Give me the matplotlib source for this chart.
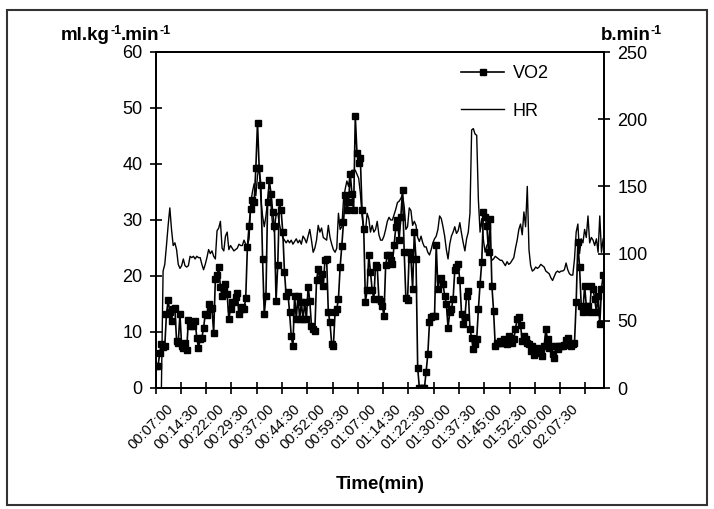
import matplotlib
matplotlib.use('Agg')
import matplotlib.pyplot as plt
import matplotlib.transforms as mtransforms
from matplotlib.patches import Rectangle
import numpy as np

# ---------------- data ----------------
vo2 = [3.9, 3.9, 6.2, 7.8, 7.3, 7.5, 13.2, 15.7, 13.5, 12.0,
       14.1, 14.2, 8.4, 8.1, 13.2, 7.5, 7.2, 8.1, 6.8, 12.2,
       11.0, 11.4, 11.0, 12.0, 8.9, 7.2, 8.7, 9.0, 10.7, 13.2,
       13.0, 15.0, 14.1, 14.2, 9.8, 19.5, 20.1, 21.6, 18.0, 16.5,
       17.7, 18.6, 16.8, 12.3, 14.1, 15.3, 15.4, 16.2, 16.9, 13.2,
       14.1, 14.4, 14.1, 16.0, 25.1, 29.0, 32.0, 33.5, 33.2, 39.2,
       47.4, 39.2, 36.2, 23.1, 13.2, 16.5, 33.2, 37.1, 34.7, 31.4,
       29.0, 15.6, 21.9, 33.2, 31.7, 27.8, 20.7, 16.5, 17.1, 13.5,
       9.3, 7.5, 16.5, 12.3, 16.5, 12.3, 15.3, 12.3, 15.3, 12.3,
       18.1, 15.6, 11.1, 10.5, 10.2, 19.2, 21.3, 19.5, 20.4, 18.3,
       22.8, 23.1, 13.5, 11.7, 7.8, 7.5, 13.5, 14.1, 15.9, 21.6,
       25.4, 29.6, 34.4, 31.7, 33.2, 38.3, 34.7, 31.7, 48.5, 41.9,
       40.1, 41.0, 31.7, 28.4, 15.4, 17.5, 23.7, 20.7, 17.5, 15.9,
       22.0, 21.6, 15.9, 15.6, 14.7, 12.9, 21.9, 23.8, 23.7, 22.8,
       22.2, 25.5, 28.7, 30.0, 26.5, 30.5, 35.3, 24.3, 16.0, 15.8,
       24.3, 23.1, 17.7, 27.8, 23.1, 3.6, 0, 0, 0, 0,
       2.9, 6.0, 11.7, 12.6, 12.9, 12.9, 25.6, 17.7, 19.5, 19.6,
       18.6, 16.5, 15.0, 10.8, 13.5, 14.1, 15.9, 21.0, 21.6, 22.2,
       19.2, 13.2, 11.4, 12.6, 16.5, 17.4, 10.5, 9.0, 6.9, 7.8,
       8.7, 14.1, 18.6, 22.5, 31.4, 30.5, 29.0, 24.3, 30.2, 18.3,
       13.8, 7.5, 8.1, 8.1, 8.4, 8.1, 8.7, 8.1, 7.8, 9.3,
       9.0, 8.1, 8.7, 10.5, 12.4, 12.6, 11.2, 8.4, 9.3, 8.7,
       8.1, 7.8, 6.6, 7.5, 5.9, 6.5, 7.2, 6.2, 6.6, 5.7,
       7.5, 10.5, 8.7, 7.2, 7.5, 6.0, 5.4, 7.5, 6.9, 7.5,
       7.5, 7.5, 7.6, 8.5, 9.0, 7.8, 7.5, 7.8, 8.1, 15.3,
       26.0, 21.6, 14.7, 13.5, 18.3, 14.7, 14.7, 13.5, 18.3, 17.7,
       15.9, 13.5, 16.5, 11.4, 17.7, 20.1]

hr = [0, 0, 0, 0, 87, 92, 106, 121, 134, 118,
      106, 108, 103, 92, 89, 91, 96, 91, 90, 91,
      98, 97, 98, 96, 98, 97, 97, 92, 88, 92,
      97, 103, 100, 102, 98, 96, 117, 119, 124, 104,
      102, 113, 116, 103, 106, 104, 102, 103, 104, 107,
      106, 106, 110, 107, 106, 111, 138, 146, 152, 143,
      158, 165, 140, 128, 120, 128, 140, 146, 136, 120,
      116, 129, 130, 122, 116, 112, 110, 108, 110, 108,
      110, 107, 109, 111, 108, 110, 107, 113, 111, 108,
      113, 118, 110, 101, 104, 110, 121, 116, 119, 112,
      111, 110, 121, 112, 107, 103, 101, 104, 130, 118,
      120, 140, 148, 154, 150, 160, 162, 162, 162, 159,
      156, 145, 128, 117, 116, 130, 126, 116, 121, 116,
      118, 124, 114, 110, 110, 113, 118, 124, 127, 125,
      125, 129, 133, 138, 139, 141, 144, 135, 118, 120,
      134, 132, 121, 124, 121, 112, 109, 113, 108, 105,
      105, 101, 99, 103, 108, 111, 113, 118, 128, 126,
      120, 113, 103, 96, 107, 113, 116, 120, 115, 117,
      123, 115, 108, 102, 111, 116, 130, 192, 193, 189,
      188, 140, 116, 126, 110, 101, 106, 108, 101, 95,
      96, 98, 97, 96, 95, 95, 93, 91, 94, 92,
      93, 95, 97, 104, 110, 118, 122, 114, 131, 120,
      150, 103, 91, 87, 88, 90, 89, 90, 92, 91,
      90, 87, 86, 85, 82, 80, 83, 86, 87, 86,
      87, 87, 88, 93, 88, 85, 84, 84, 96, 116,
      122, 100, 111, 108, 118, 112, 128, 108, 112, 110,
      106, 111, 101, 128, 101, 111]

time_labels = ["00:07:00", "00:14:30", "00:22:00", "00:29:30", "00:37:00",
               "00:44:30", "00:52:00", "00:59:30", "01:07:00", "01:14:30",
               "01:22:30", "01:30:00", "01:37:30", "01:45:00", "01:52:30",
               "02:00:00", "02:07:30"]
label_step = 15
vo2_ticks = [0, 10, 20, 30, 40, 50, 60]
hr_ticks = [0, 50, 100, 150, 200, 250]

# ---------------- style ----------------
plt.rcParams['font.family'] = ['Liberation Sans', 'DejaVu Sans']

W, H = 714, 509
fig = plt.figure(figsize=(W / 100, H / 100), dpi=100)
renderer = fig.canvas.get_renderer()


def fx(px):
    return px / W


def fy(py):
    return 1 - py / H


left, right, top, bottom = 155.5, 604, 52, 388
ax = fig.add_axes([fx(left), fy(bottom), fx(right - left), (bottom - top) / H])

n = len(vo2)
x = np.arange(n)
ax2 = ax.twinx()
l2, = ax2.plot(x, hr, color='black', lw=1.0, label='HR')
ax2.set_ylim(hr_ticks[0], hr_ticks[-1])
ax2.set_yticks(hr_ticks)

l1, = ax.plot(x, vo2, color='black', lw=1.2, marker='s', ms=4.2, label='VO2')
ax.set_xlim(-0.5, n - 0.5)
ax.set_ylim(vo2_ticks[0], vo2_ticks[-1])
ax.set_yticks(vo2_ticks)
ax.set_zorder(ax2.get_zorder() + 1)
ax.patch.set_visible(False)

# x ticks: marks between categories, labels on categories
major = np.arange(0, n, label_step) - 0.5
ax.set_xticks(major)
ax.set_xticklabels([])
lab_pos = np.arange(len(time_labels)) * label_step
ax.set_xticks(lab_pos, labels=time_labels, minor=True)
ax.tick_params(axis='x', which='minor', length=0, pad=10, labelsize=10.5)
ax.tick_params(axis='x', which='major', direction='inout', length=9, width=1.2)
offset = mtransforms.ScaledTranslation(0.10, 0, fig.dpi_scale_trans)
for lbl in ax.get_xticklabels(minor=True):
    lbl.set_rotation(45)
    lbl.set_ha('right')
    lbl.set_va('top')
    lbl.set_rotation_mode('anchor')
    lbl.set_transform(lbl.get_transform() + offset)

ax.tick_params(axis='y', direction='inout', length=9, width=1.2, labelsize=13, pad=5)
ax2.tick_params(axis='y', direction='inout', length=9, width=1.2, labelsize=13, pad=5)

for a in (ax, ax2):
    for s in a.spines.values():
        s.set_linewidth(1.3)
        s.set_color('black')


def unit_label(cx, base_y, pieces, size=13.5, sup_size=9, rise=6):
    """Draw bold text pieces [(text, is_sup), ...] centred at cx (pixels)."""
    arts = []
    for txt, sup in pieces:
        t = fig.text(0, 0, txt, fontsize=sup_size if sup else size,
                     fontweight='bold', ha='left', va='baseline')
        arts.append((t, sup))
    widths = [t.get_window_extent(renderer).width for t, _ in arts]
    xpos = cx - sum(widths) / 2
    for (t, sup), w in zip(arts, widths):
        t.set_position((fx(xpos), fy(base_y - (rise if sup else 0))))
        xpos += w


unit_label(116, 40, [('ml.kg', False), ('-1', True), ('.min', False), ('-1', True)])
unit_label(631, 40, [('b.min', False), ('-1', True)])
fig.text(fx(380), fy(489), 'Time(min)', ha='center', va='baseline',
         fontsize=13.5, fontweight='bold')

# legend
ax.legend(handles=[l1, l2], loc='upper left', bbox_to_anchor=(fx(461), fy(65)),
          bbox_transform=fig.transFigure, frameon=False, fontsize=13,
          handlelength=2.4, handletextpad=0.45, labelspacing=1.15,
          borderpad=0, borderaxespad=0, numpoints=1)

# chart border
fig.patches.append(Rectangle((fx(7), fy(505)), fx(700), (505 - 10) / H,
                             transform=fig.transFigure, fill=False,
                             lw=1.5, ec='#333333'))

fig.savefig('out.png', dpi=100)
